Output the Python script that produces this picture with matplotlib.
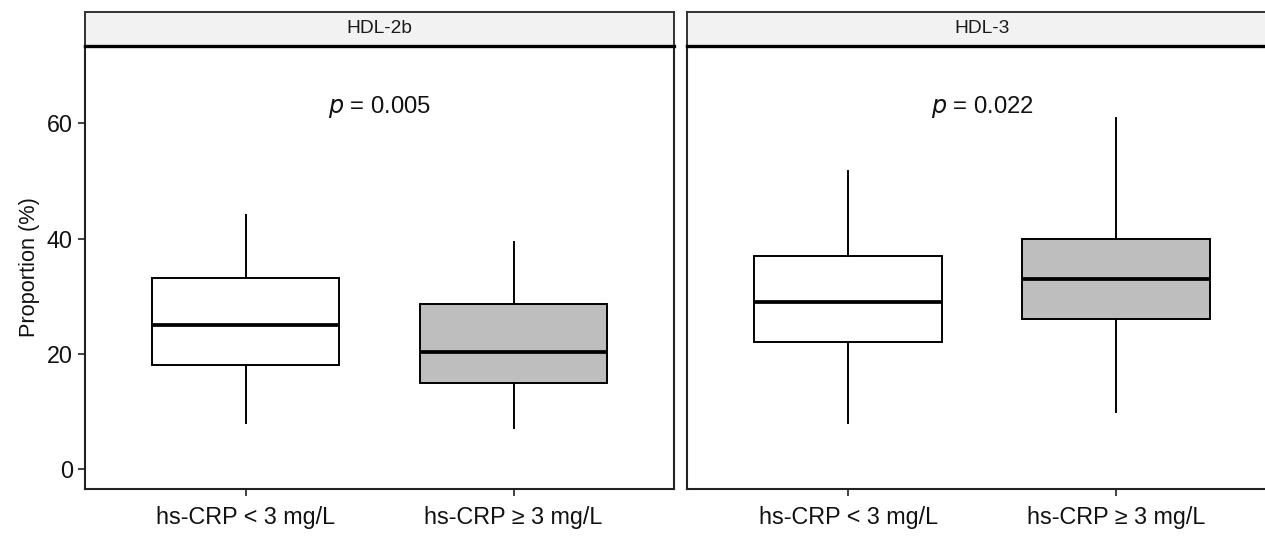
import matplotlib.pyplot as plt

plt.rcParams['font.family'] = ['Liberation Sans', 'DejaVu Sans']

# data
panels = ["HDL-2b", "HDL-3"]
groups = ["hs-CRP < 3 mg/L", "hs-CRP \u2265 3 mg/L"]
fills = ["white", "#BEBEBE"]
p_labels = ["0.005", "0.022"]

whislo = [[8.0, 7.1], [8.0, 10.0]]
q1 = [[18.1, 14.9], [22.1, 26.0]]
med = [[25.1, 20.3], [29.0, 33.0]]
q3 = [[33.2, 28.6], [37.0, 40.0]]
whishi = [[44.1, 39.4], [51.8, 60.9]]

fig = plt.figure(figsize=(12.65, 5.49), dpi=100)

lefts = [0.0670, 0.5433]
width = 0.4661
bottom = 0.1093
height = 0.8069

for i, name in enumerate(panels):
    ax = fig.add_axes([lefts[i], bottom, width, height])
    stats = []
    for j in range(2):
        stats.append({
            "whislo": whislo[i][j], "q1": q1[i][j], "med": med[i][j],
            "q3": q3[i][j], "whishi": whishi[i][j], "fliers": [],
        })
    bp = ax.bxp(stats, positions=[1, 2], widths=0.7, patch_artist=True,
                showcaps=False, showfliers=False,
                boxprops=dict(edgecolor="black", linewidth=1.4),
                whiskerprops=dict(color="black", linewidth=1.4),
                medianprops=dict(color="black", linewidth=2.7))
    for patch, fc in zip(bp["boxes"], fills):
        patch.set_facecolor(fc)

    ax.set_xlim(0.4, 2.6)
    ax.set_ylim(-3.4, 73.4)
    ax.set_xticks([1, 2])
    ax.set_xticklabels(groups, fontsize=16.8, color="#111111")
    ax.tick_params(axis="x", length=5, width=1.3, color="#333333", pad=7)
    if i == 0:
        ax.set_yticks([0, 20, 40, 60])
        ax.tick_params(axis="y", length=5, width=1.3, color="#333333",
                       labelsize=16.8, labelcolor="#111111")
        ax.set_ylabel("Proportion (%)", fontsize=15.7, labelpad=5, color="#111111")
    else:
        ax.set_yticks([])
    for s in ax.spines.values():
        s.set_linewidth(1.5)
        s.set_color("#222222")

    ax.text(1.5, 61.7, "$p$ = " + p_labels[i], ha="center", va="baseline",
            fontsize=17.2, color="#111111")

    # facet strip
    sx = fig.add_axes([lefts[i], 0.9162, width, 0.0625])
    sx.set_facecolor("#F2F2F2")
    sx.set_xticks([])
    sx.set_yticks([])
    for s in sx.spines.values():
        s.set_linewidth(1.4)
        s.set_color("#333333")
    sx.spines["bottom"].set_linewidth(2.4)
    sx.spines["bottom"].set_color("black")
    sx.text(0.5, 0.5, name, ha="center", va="center", fontsize=13.8,
            color="#1A1A1A", transform=sx.transAxes)

fig.savefig("out.png", dpi=100)
